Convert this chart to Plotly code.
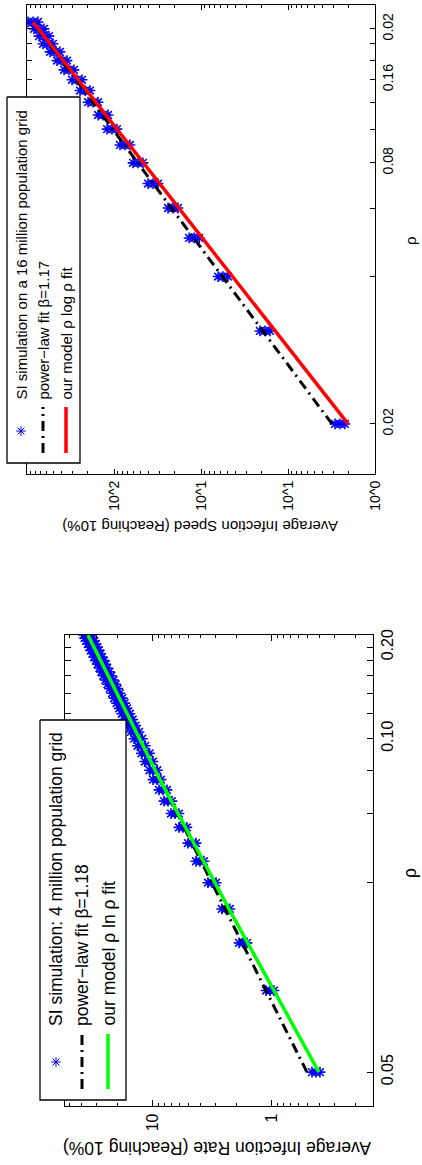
import plotly.graph_objects as go

# ---------------- top panel: 16 million population grid ----------------
rho_top = [0.01, 0.02, 0.03, 0.04, 0.05, 0.06, 0.07, 0.08, 0.09, 0.10,
           0.11, 0.12, 0.13, 0.14, 0.15, 0.16, 0.17, 0.18, 0.19, 0.20]
speed_mid = [2.53, 18.4, 55.9, 120, 210, 356, 530, 748, 1054, 1337,
             1742, 2154, 2661, 3289, 3960, 4768, 5741, 6380, 7280, 8530]
speed_lo = [2.22, 16.1, 49.0, 105, 184, 312, 465, 656, 925, 1173,
            1528, 1889, 2334, 2885, 3474, 4182, 5036, 5596, 6386, 7482]
speed_hi = [2.88, 21.0, 63.7, 137, 239, 406, 604, 853, 1202, 1524,
            1986, 2456, 3034, 3749, 4514, 5436, 6545, 7273, 8299, 9724]
power_top_rho = [0.01, 0.20]
power_top_val = [3.12, 8530]
model_top_rho = [0.01, 0.04, 0.10, 0.20]
model_top_val = [2.04, 97, 1250, 8530]

top_rho_ticks = [0.01, 0.03, 0.05, 0.07, 0.09, 0.11, 0.13, 0.15, 0.17, 0.19]
top_rho_labels = ["0.02", "", "", "0.08", "", "", "0.16", "", "", "0.02"]
top_val_ticks = [1, 10, 100, 1000]
top_val_labels = ["10^0", "10^1", "10^1", "10^2"]

# ---------------- bottom panel: 4 million population grid ----------------
rho_bot = [0.005, 0.010, 0.015, 0.020, 0.025, 0.030, 0.035, 0.040, 0.045, 0.050,
           0.055, 0.060, 0.065, 0.070, 0.075, 0.080, 0.085, 0.090, 0.095, 0.100,
           0.105, 0.110, 0.115, 0.120, 0.125, 0.130, 0.135, 0.140, 0.145, 0.150,
           0.155, 0.160, 0.165, 0.170, 0.175, 0.180, 0.185, 0.190, 0.195, 0.200,
           0.205]
rate_mid = [0.427, 1.04, 1.75, 2.44, 3.19, 4.03, 4.70, 5.60, 6.53, 7.48,
            8.24, 9.25, 9.93, 10.8, 11.6, 12.5, 13.3, 14.2, 15.1, 16.0,
            16.9, 17.8, 18.7, 19.6, 20.5, 21.4, 22.3, 23.2, 24.2, 25.1,
            26.1, 27.0, 27.9, 28.9, 29.8, 30.8, 31.7, 32.6, 33.7, 34.6,
            35.5]
rate_lo = [0.395, 0.963, 1.62, 2.26, 2.95, 3.73, 4.35, 5.19, 6.05, 6.93,
           7.63, 8.56, 9.19, 10.0, 10.7, 11.6, 12.3, 13.1, 14.0, 14.8,
           15.6, 16.5, 17.3, 18.1, 19.0, 19.8, 20.6, 21.5, 22.4, 23.2,
           24.2, 25.0, 25.8, 26.8, 27.6, 28.5, 29.4, 30.2, 31.2, 32.0,
           32.9]
rate_hi = [0.461, 1.12, 1.89, 2.64, 3.45, 4.35, 5.08, 6.05, 7.05, 8.08,
           8.90, 9.99, 10.7, 11.7, 12.5, 13.5, 14.4, 15.3, 16.3, 17.3,
           18.3, 19.2, 20.2, 21.2, 22.1, 23.1, 24.1, 25.1, 26.1, 27.1,
           28.2, 29.2, 30.1, 31.2, 32.2, 33.3, 34.2, 35.2, 36.4, 37.4,
           38.3]
power_bot_rho = [0.005, 0.205]
power_bot_val = [0.508, 35.5]
model_bot_rho = [0.005, 0.02, 0.06, 0.205]
model_bot_val = [0.403, 2.30, 8.73, 35.2]

bot_rho_ticks = [0.005, 0.025, 0.045, 0.065, 0.085, 0.105, 0.125, 0.145, 0.165, 0.185]
bot_rho_labels = ["0.05", "", "", "", "0.10", "", "", "", "", "0.20"]
bot_val_ticks = [1, 10]
bot_val_labels = ["1", "10"]

FONT = "Liberation Sans, Arial, Helvetica, sans-serif"
W, H = 422, 1165
BLUE, RED, GREEN = "#0000FF", "#FF0000", "#00FF00"
DASHDOT = "10px,5px,2px,5px"
MARKER = dict(symbol="asterisk-open", size=9, color=BLUE, line=dict(color=BLUE, width=1.6))


def spread(xv, lo, mid, hi):
    xs, ys = [], []
    for r, a, b, c in zip(xv, lo, mid, hi):
        xs += [r, r, r]
        ys += [a, b, c]
    return xs, ys


fig = go.Figure()

# top panel traces (value on horizontal axis, rho on vertical axis)
xs, ys = spread(rho_top, speed_lo, speed_mid, speed_hi)
fig.add_trace(go.Scatter(x=ys, y=xs, mode="markers", xaxis="x", yaxis="y", marker=MARKER))
fig.add_trace(go.Scatter(x=power_top_val, y=power_top_rho, mode="lines", xaxis="x", yaxis="y",
                         line=dict(color="black", width=3, dash=DASHDOT)))
fig.add_trace(go.Scatter(x=model_top_val, y=model_top_rho, mode="lines", xaxis="x", yaxis="y",
                         line=dict(color=RED, width=3.5)))

# bottom panel traces
xs, ys = spread(rho_bot, rate_lo, rate_mid, rate_hi)
fig.add_trace(go.Scatter(x=ys, y=xs, mode="markers", xaxis="x2", yaxis="y2", marker=MARKER))
fig.add_trace(go.Scatter(x=power_bot_val, y=power_bot_rho, mode="lines", xaxis="x2", yaxis="y2",
                         line=dict(color="black", width=3, dash=DASHDOT)))
fig.add_trace(go.Scatter(x=model_bot_val, y=model_bot_rho, mode="lines", xaxis="x2", yaxis="y2",
                         line=dict(color=GREEN, width=3.5)))


# ---- rotated legends drawn on an overlay pixel axis (x3/y3) ----
def legend(box, mk, dash_x, solid_x, solid_col, ys_line, texts, text_x, text_y, fsize):
    x0, x1, y0, y1 = box
    fig.add_trace(go.Scatter(x=[x0, x1, x1, x0, x0], y=[y0, y0, y1, y1, y0], mode="lines",
                             fill="toself", fillcolor="white",
                             line=dict(color="black", width=1.3), xaxis="x3", yaxis="y3"))
    fig.add_trace(go.Scatter(x=[mk[0]], y=[mk[1]], mode="markers", xaxis="x3", yaxis="y3",
                             marker=dict(symbol="asterisk-open", size=8, color=BLUE,
                                         line=dict(color=BLUE, width=1))))
    fig.add_trace(go.Scatter(x=[dash_x, dash_x], y=ys_line, mode="lines", xaxis="x3", yaxis="y3",
                             line=dict(color="black", width=3, dash=DASHDOT)))
    fig.add_trace(go.Scatter(x=[solid_x, solid_x], y=ys_line, mode="lines", xaxis="x3", yaxis="y3",
                             line=dict(color=solid_col, width=3.5)))
    for t, tx in zip(texts, text_x):
        fig.add_annotation(x=tx, y=text_y, xref="x3", yref="y3", text=t, showarrow=False,
                           textangle=-90, xanchor="center", yanchor="bottom",
                           font=dict(family=FONT, size=fsize, color="black"))


legend((7, 80, 97, 463), (21, 431), 43, 66, RED, [453, 407],
       ["SI simulation on a 16 million population grid",
        "power−law fit β=1.17",
        "our model ρ log ρ fit"], [21, 43, 66], 402, 15)
legend((40, 126, 720, 1100), (56, 1062), 82, 108, GREEN, [1089, 1034],
       ["SI simulation: 4 million population grid",
        "power−law fit β=1.18",
        "our model ρ ln ρ fit"], [56, 82, 108], 1028, 17.5)

# axis titles (rotated page)
fig.add_annotation(x=200, y=527, xref="x3", yref="y3", showarrow=False, textangle=180,
                   text="Average Infection Speed (Reaching 10%)",
                   font=dict(family=FONT, size=15, color="black"))
fig.add_annotation(x=217, y=1148, xref="x3", yref="y3", showarrow=False, textangle=180,
                   text="Average Infection Rate (Reaching 10%)",
                   font=dict(family=FONT, size=17.5, color="black"))
fig.add_annotation(x=410, y=241, xref="x3", yref="y3", showarrow=False, textangle=-90,
                   text="ρ", font=dict(family=FONT, size=15, color="black"))
fig.add_annotation(x=410, y=873, xref="x3", yref="y3", showarrow=False, textangle=-90,
                   text="ρ", font=dict(family=FONT, size=17.5, color="black"))


def minor_vals(lo_exp, hi_exp, lo, hi):
    out = []
    for e in range(lo_exp, hi_exp + 1):
        for k in range(2, 10):
            v = k * 10 ** e
            if lo <= v <= hi:
                out.append(v)
    return out


common = dict(showline=True, linecolor="black", linewidth=1.3, mirror="allticks",
              ticks="inside", tickcolor="black", showgrid=False, zeroline=False)

fig.update_layout(
    width=W, height=H, margin=dict(l=0, r=0, t=0, b=0, autoexpand=False),
    paper_bgcolor="white", plot_bgcolor="rgba(0,0,0,0)", showlegend=False,
    xaxis=dict(domain=[27 / W, 375 / W], anchor="y", type="log", range=[4.0, 0.0],
               tickvals=top_val_ticks, ticktext=top_val_labels, tickangle=-90,
               ticklen=5, tickfont=dict(family=FONT, size=14, color="black"),
               minor=dict(tickvals=minor_vals(0, 3, 1, 10000), ticks="inside", ticklen=3,
                          tickcolor="black"),
               **common),
    yaxis=dict(domain=[1 - 474 / H, 1 - 5 / H], anchor="x", type="log", side="right",
               range=[-2.162, -0.644], tickvals=top_rho_ticks, ticktext=top_rho_labels,
               tickangle=-90, ticklen=5, tickfont=dict(family=FONT, size=14, color="black"),
               **common),
    xaxis2=dict(domain=[65 / W, 373 / W], anchor="y2", type="log", range=[1.739, -0.849],
                tickvals=bot_val_ticks, ticktext=bot_val_labels, tickangle=-90,
                ticklen=6, tickfont=dict(family=FONT, size=16, color="black"),
                minor=dict(tickvals=minor_vals(-1, 1, 0.15, 54), ticks="inside", ticklen=3,
                           tickcolor="black"),
                **common),
    yaxis2=dict(domain=[1 - 1106 / H, 1 - 635 / H], anchor="x2", type="log", side="right",
                range=[-2.426, -0.688], tickvals=bot_rho_ticks, ticktext=bot_rho_labels,
                tickangle=-90, ticklen=6, tickfont=dict(family=FONT, size=16, color="black"),
                **common),
    xaxis3=dict(domain=[0, 1], anchor="y3", range=[0, W], visible=False, fixedrange=True),
    yaxis3=dict(domain=[0, 1], anchor="x3", range=[H, 0], visible=False, fixedrange=True),
)

fig.write_html("out.html", config={"displayModeBar": False},
               post_script="document.body.style.margin='0';document.body.style.overflow='hidden';")
